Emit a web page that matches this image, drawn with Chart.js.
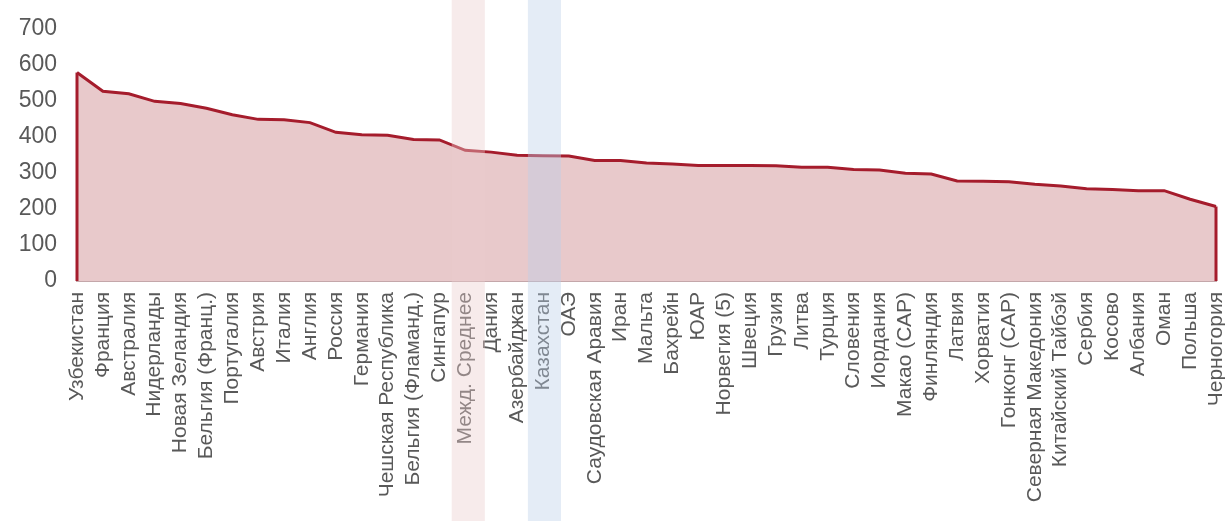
<!DOCTYPE html>
<html lang="ru">
<head>
<meta charset="utf-8">
<script src="https://cdn.jsdelivr.net/npm/chart.js@4/dist/chart.umd.min.js"></script>
<style>
  html, body { margin: 0; padding: 0; background: #fff; }
  #wrap { width: 1225px; height: 521px; position: relative; }
</style>
</head>
<body>
<div id="wrap"><canvas id="chart"></canvas></div>
<script>
const countries = [
  "Узбекистан", "Франция", "Австралия", "Нидерланды", "Новая Зеландия",
  "Бельгия (Франц.)", "Португалия", "Австрия", "Италия", "Англия",
  "Россия", "Германия", "Чешская Республика", "Бельгия (Фламанд.)", "Сингапур",
  "Межд. Среднее", "Дания", "Азербайджан", "Казахстан", "ОАЭ",
  "Саудовская Аравия", "Иран", "Мальта", "Бахрейн", "ЮАР",
  "Норвегия (5)", "Швеция", "Грузия", "Литва", "Турция",
  "Словения", "Иордания", "Макао (САР)", "Финляндия", "Латвия",
  "Хорватия", "Гонконг (САР)", "Северная Македония", "Китайский Тайбэй", "Сербия",
  "Косово", "Албания", "Оман", "Польша", "Черногория"
];

const scores = [
  579, 527, 520, 499, 493,
  480, 462, 449, 448, 440,
  413, 406, 405, 393, 392,
  363, 358, 349, 348, 347,
  335, 335, 328, 325, 321,
  321, 321, 320, 316, 316,
  310, 308, 299, 297, 278,
  277, 276, 269, 264, 256,
  254, 251, 251, 227, 207
];

const yTicks = [0, 100, 200, 300, 400, 500, 600, 700];

// columns that get a tinted stripe across the whole height
const highlighted = ["Межд. Среднее", "Казахстан"];

const bandStyles = [
  { color: "rgba(235, 205, 205, 0.4)", shift: 3 },
  { color: "rgba(187, 207, 232, 0.4)", shift: 1.5 }
];

const lineColor = "#a51c2c";
const fontFamily = "'Liberation Sans', Arial, sans-serif";

// close the area outline with vertical edges at both ends
const edgePlugin = {
  id: "edges",
  afterDatasetsDraw(chart) {
    const { ctx, scales: { x, y } } = chart;
    const n = scores.length;
    const y0 = y.getPixelForValue(0);
    ctx.save();
    ctx.strokeStyle = lineColor;
    ctx.lineWidth = 3;
    [0, n - 1].forEach(i => {
      const px = x.getPixelForValue(i);
      ctx.beginPath();
      ctx.moveTo(px, y.getPixelForValue(scores[i]));
      ctx.lineTo(px, y0);
      ctx.stroke();
    });
    ctx.restore();
  }
};

const bandPlugin = {
  id: "bands",
  afterDraw(chart) {
    const { ctx, scales: { x } } = chart;
    const step = x.getPixelForValue(1) - x.getPixelForValue(0);
    const half = step * 0.64;
    ctx.save();
    highlighted.forEach((name, k) => {
      const style = bandStyles[k];
      const cx = x.getPixelForValue(countries.indexOf(name)) + style.shift;
      ctx.fillStyle = style.color;
      ctx.fillRect(cx - half, 0, half * 2, chart.height);
    });
    ctx.restore();
  }
};

new Chart(document.getElementById("chart"), {
  type: "line",
  data: {
    labels: countries,
    datasets: [{
      data: scores,
      borderColor: lineColor,
      borderWidth: 3,
      backgroundColor: "#e8c9cb",
      fill: "origin",
      tension: 0,
      pointRadius: 0,
      pointHoverRadius: 0
    }]
  },
  options: {
    responsive: true,
    maintainAspectRatio: false,
    animation: false,
    layout: { padding: { top: 29, right: 9, left: 0, bottom: 0 } },
    plugins: {
      legend: { display: false },
      tooltip: { enabled: false }
    },
    scales: {
      x: {
        offset: false,
        grid: { display: false, drawTicks: false },
        border: { display: true, color: "#c4a7aa", width: 2 },
        ticks: {
          autoSkip: false,
          maxRotation: 90,
          minRotation: 90,
          padding: 11,
          color: "#595959",
          font: { family: fontFamily, size: 21 }
        },
        afterFit(scale) {
          scale.height = 240;
          scale.paddingLeft = 0;
          scale.paddingRight = 0;
        }
      },
      y: {
        min: 0,
        max: 700,
        afterBuildTicks(scale) { scale.ticks = yTicks.map(v => ({ value: v })); },
        grid: { display: false, drawTicks: false },
        border: { display: false },
        ticks: {
          padding: 20,
          color: "#595959",
          font: { family: fontFamily, size: 23 }
        },
        afterFit(scale) {
          scale.width = 77;
          scale.paddingTop = 0;
          scale.paddingBottom = 0;
        }
      }
    }
  },
  plugins: [edgePlugin, bandPlugin]
});
</script>
</body>
</html>
